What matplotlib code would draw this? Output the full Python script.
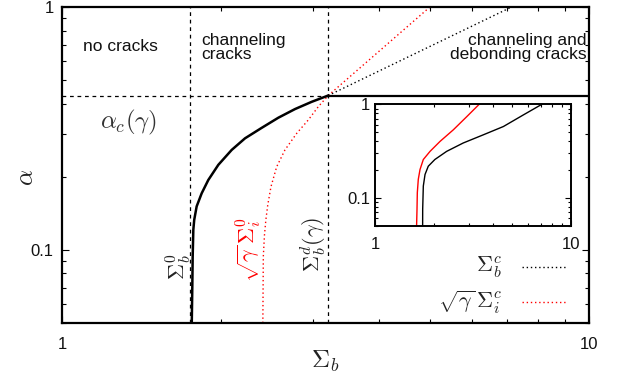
import matplotlib
matplotlib.use("Agg")
import matplotlib.pyplot as plt
from matplotlib.ticker import FixedLocator, FixedFormatter, NullFormatter, LogLocator

plt.rcParams['font.family'] = ['Liberation Sans', 'DejaVu Sans']
plt.rcParams['mathtext.fontset'] = 'cm'

# ---- data ----
sigma_b0 = 1.75
sigma_bd = 3.20
alpha_c = 0.432

# black solid curve: channeling threshold Sigma_b vs alpha
curve_sb = [1.763, 1.767, 1.770, 1.775, 1.782, 1.801, 1.841, 1.895, 1.980, 2.099,
            2.225, 2.393, 2.573, 2.768, 2.977, 3.20]
curve_alpha = [0.05, 0.07, 0.094, 0.121, 0.133, 0.151, 0.171, 0.194, 0.224, 0.258,
               0.288, 0.318, 0.350, 0.380, 0.407, 0.432]

# red dotted curve below intersection: sqrt(gamma) Sigma_i
red_sb = [2.405, 2.41, 2.422, 2.437, 2.457, 2.492, 2.555, 2.649, 2.789, 2.934, 3.065, 3.20]
red_alpha = [0.05, 0.094, 0.115, 0.133, 0.153, 0.182, 0.220, 0.258, 0.302, 0.343, 0.389, 0.432]

# dotted straight continuations above intersection
blk_dot_sb = [3.20, 7.13]
blk_dot_alpha = [0.432, 1.0]
red_dot_sb = [3.20, 4.99]
red_dot_alpha = [0.432, 1.0]

# inset curves
ins_blk_sb = [1.75, 1.751, 1.764, 1.80, 1.87, 2.02, 2.32, 2.82, 3.57, 4.52, 5.71, 7.1]
ins_blk_alpha = [0.05, 0.075, 0.133, 0.177, 0.217, 0.256, 0.313, 0.385, 0.471, 0.578, 0.769, 1.0]
ins_red_sb = [1.63, 1.638, 1.644, 1.663, 1.697, 1.764, 1.909, 2.146, 2.51, 2.94, 3.40]
ins_red_alpha = [0.05, 0.075, 0.113, 0.157, 0.200, 0.256, 0.313, 0.400, 0.533, 0.738, 1.0]

x_ticks = [1, 10]
x_ticklabels = ['1', '10']
y_ticks = [0.1, 1]
y_ticklabels = ['0.1', '1']

fig = plt.figure(figsize=(6.29, 3.88), dpi=100)
ax = fig.add_axes([62/629, (388-323)/388, 527/629, 316/388])

def style_axes(a, lw, fs):
    a.set_xscale('log')
    a.set_yscale('log')
    a.set_xlim(1, 10)
    a.set_ylim(0.05, 1)
    a.xaxis.set_major_locator(FixedLocator(x_ticks))
    a.xaxis.set_major_formatter(FixedFormatter(x_ticklabels))
    a.yaxis.set_major_locator(FixedLocator(y_ticks))
    a.yaxis.set_major_formatter(FixedFormatter(y_ticklabels))
    a.xaxis.set_minor_locator(LogLocator(base=10, subs=range(2, 10)))
    a.yaxis.set_minor_locator(LogLocator(base=10, subs=range(2, 10)))
    a.xaxis.set_minor_formatter(NullFormatter())
    a.yaxis.set_minor_formatter(NullFormatter())
    a.tick_params(which='both', direction='in', top=True, right=True, labelsize=fs, width=0.8,
                  labelcolor='#111111')
    a.tick_params(which='major', length=5)
    a.tick_params(which='minor', length=3)
    for s in a.spines.values():
        s.set_linewidth(lw)

style_axes(ax, 1.6, 12)
ax.tick_params(axis='x', pad=10)
ax.tick_params(axis='y', pad=6)

# guide lines
ax.axvline(sigma_b0, color='black', ls=(0, (3, 3)), lw=0.9)
ax.axvline(sigma_bd, color='black', ls=(0, (3, 3)), lw=0.9)
ax.plot([1, sigma_bd], [alpha_c, alpha_c], color='black', ls=(0, (3, 3)), lw=0.9)
ax.plot([sigma_bd, 10], [alpha_c, alpha_c], color='black', lw=1.6)

# curves
ax.plot(red_sb, red_alpha, color='red', ls=(0, (1, 2)), lw=1.0)
ax.plot(red_dot_sb, red_dot_alpha, color='red', ls=(0, (1, 2)), lw=1.0)
ax.plot(blk_dot_sb, blk_dot_alpha, color='black', ls=(0, (1, 2)), lw=1.0)
ax.plot(curve_sb, curve_alpha, color='black', lw=1.8)

# legend (manual)
ax.text(0.835, 0.175, r'$\Sigma_b^c$', transform=ax.transAxes, ha='right', va='center', fontsize=16, color='#222222')
ax.text(0.835, 0.065, r'$\sqrt{\gamma}\,\Sigma_i^c$', transform=ax.transAxes, ha='right', va='center', fontsize=16, color='#222222')
ax.plot([0.873, 0.958], [0.178, 0.178], transform=ax.transAxes, color='black', ls=(0, (1, 2)), lw=1.0)
ax.plot([0.873, 0.958], [0.068, 0.068], transform=ax.transAxes, color='red', ls=(0, (1, 2)), lw=1.0)

# region labels
ax.text(1.29, 0.69, 'no cracks', ha='center', va='center', fontsize=12.5, color='#111111')
ax.text(1.84, 0.68, 'channeling\ncracks', ha='left', va='center', fontsize=12.5, color='#111111', linespacing=0.9)
ax.text(9.88, 0.68, 'channeling and\ndebonding cracks', ha='right', va='center', fontsize=12.5, color='#111111', linespacing=0.9)
ax.text(1.34, 0.335, r'$\alpha_c(\gamma)$', ha='center', va='center', fontsize=18, color='#333333')

# rotated labels
ax.text(1.66, 0.085, r'$\Sigma_b^0$', rotation=90, ha='center', va='center', fontsize=16, color='#222222')
ax.text(2.26, 0.100, r'$\sqrt{\gamma}\,\Sigma_i^0$', rotation=90, ha='center', va='center', fontsize=16, color='red')
ax.text(3.0, 0.105, r'$\Sigma_b^d(\gamma)$', rotation=90, ha='center', va='center', fontsize=16, color='#222222')

ax.set_xlabel(r'$\Sigma_b$', fontsize=18, labelpad=-2, color='#222222')
ax.text(-0.068, 0.46, r'$\alpha$', transform=ax.transAxes, rotation=90, ha='center', va='center',
        fontsize=18, color='#222222')

# inset
ins = fig.add_axes([375/629, (388-225.7)/388, 196/629, 121.4/388])
style_axes(ins, 1.4, 12)
ins.tick_params(which='major', length=4)
ins.tick_params(which='minor', length=2)
ins.tick_params(axis='x', pad=8)
ins.plot(ins_red_sb, ins_red_alpha, color='red', lw=1.0)
ins.plot(ins_blk_sb, ins_blk_alpha, color='black', lw=1.0)

fig.savefig('out.png', dpi=100)
